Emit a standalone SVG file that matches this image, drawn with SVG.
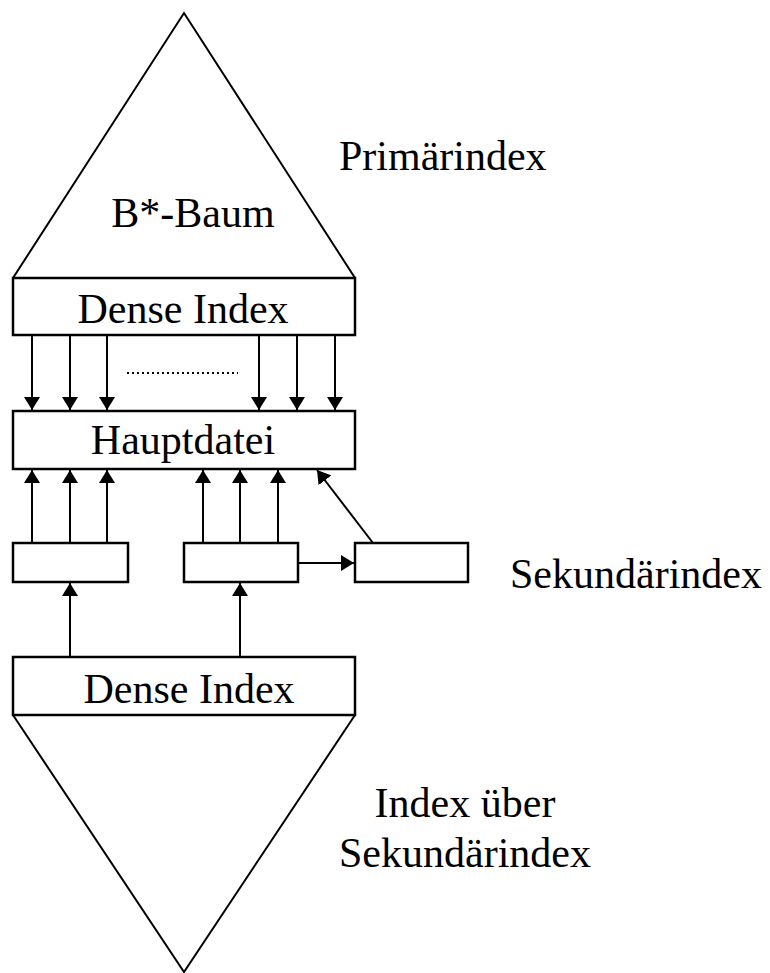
<svg xmlns="http://www.w3.org/2000/svg" width="770" height="973" viewBox="0 0 770 973">
<style>
.s{fill:none;stroke:#000;stroke-width:2}
.b{fill:#fff;stroke:#000;stroke-width:2.5}
.t{font-family:"Liberation Serif","Times New Roman",serif;font-size:42px;fill:#000}
.m{text-anchor:middle}
.c{stroke:#000;stroke-width:2;fill:none}
</style>
<defs>
<marker id="ah" viewBox="0 0 13 16" markerWidth="13" markerHeight="16" refX="13" refY="8" orient="auto" markerUnits="userSpaceOnUse">
<path d="M0,0 L13,8 L0,16 Z" fill="#000"/>
</marker>
</defs>
<rect width="770" height="973" fill="#fff"/>
<g id="tri-top"><polyline class="s" points="13,278 184,13 355,278"/></g>
<g id="tri-bottom"><polyline class="s" points="13,715 184,972 355,715"/></g>
<g id="dense-top"><rect class="b" x="13" y="278" width="342" height="57"/><text class="t m" x="183" y="323">Dense Index</text></g>
<g id="haupt"><rect class="b" x="13" y="411" width="342" height="58"/><text class="t m" x="183" y="454">Hauptdatei</text></g>
<g id="sek1"><rect class="b" x="13" y="543" width="115" height="39"/></g>
<g id="sek2"><rect class="b" x="184" y="543" width="114" height="39"/></g>
<g id="sek3"><rect class="b" x="355" y="543" width="113" height="39"/></g>
<g id="dense-bottom"><rect class="b" x="13" y="657" width="342" height="58"/><text class="t m" x="189" y="703">Dense Index</text></g>
<g id="labels">
<text class="t" x="339" y="170">Primärindex</text>
<text class="t m" x="193" y="227">B*-Baum</text>
<text class="t" x="510" y="588">Sekundärindex</text>
<text class="t m" x="465" y="817">Index über</text>
<text class="t m" x="465" y="867">Sekundärindex</text>
</g>
<g id="connectors">
<line class="c" x1="32" y1="336" x2="32" y2="410" marker-end="url(#ah)"/>
<line class="c" x1="70" y1="336" x2="70" y2="410" marker-end="url(#ah)"/>
<line class="c" x1="107" y1="336" x2="107" y2="410" marker-end="url(#ah)"/>
<line class="c" x1="259" y1="336" x2="259" y2="410" marker-end="url(#ah)"/>
<line class="c" x1="297" y1="336" x2="297" y2="410" marker-end="url(#ah)"/>
<line class="c" x1="335" y1="336" x2="335" y2="410" marker-end="url(#ah)"/>
<line x1="127" y1="373" x2="238" y2="373" stroke="#000" stroke-width="2" stroke-dasharray="2,3"/>
<line class="c" x1="32" y1="543" x2="32" y2="470" marker-end="url(#ah)"/>
<line class="c" x1="70" y1="543" x2="70" y2="470" marker-end="url(#ah)"/>
<line class="c" x1="107" y1="543" x2="107" y2="470" marker-end="url(#ah)"/>
<line class="c" x1="203" y1="543" x2="203" y2="470" marker-end="url(#ah)"/>
<line class="c" x1="240" y1="543" x2="240" y2="470" marker-end="url(#ah)"/>
<line class="c" x1="278" y1="543" x2="278" y2="470" marker-end="url(#ah)"/>
<line class="c" x1="373" y1="543" x2="317" y2="470" marker-end="url(#ah)"/>
<line class="c" x1="298" y1="563" x2="354" y2="563" marker-end="url(#ah)"/>
<line class="c" x1="70" y1="657" x2="70" y2="583" marker-end="url(#ah)"/>
<line class="c" x1="240" y1="657" x2="240" y2="583" marker-end="url(#ah)"/>
</g>
</svg>
